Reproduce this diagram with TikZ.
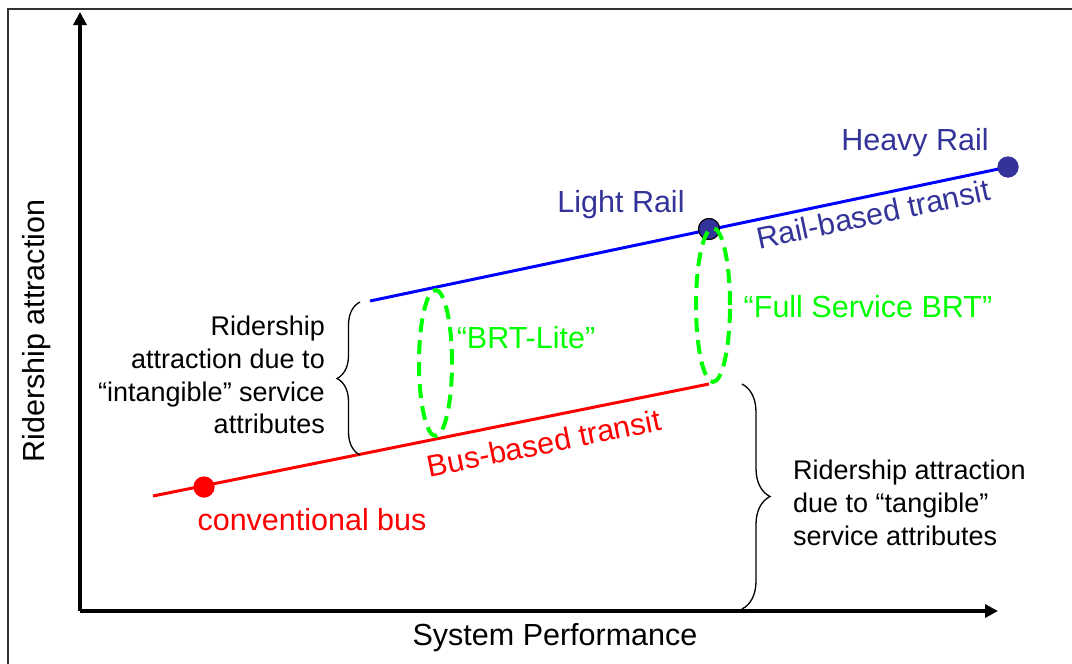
\documentclass[tikz,border=0pt]{standalone}
\usepackage{fontspec}
\setmainfont{Liberation Sans}
\usetikzlibrary{arrows.meta,decorations.pathreplacing}
\definecolor{navy}{RGB}{51,51,153}
\definecolor{brtgreen}{RGB}{0,255,0}
\begin{document}
\begin{tikzpicture}[x=1pt,y=-1pt,
  big/.style={font=\fontsize{30.5}{36}\selectfont, inner sep=0pt},
  small/.style={font=\fontsize{27}{32.8}\selectfont, inner sep=0pt},
  axisline/.style={line width=3.5pt,-{Triangle[length=13pt,width=13pt]}},
  railline/.style={blue,line width=3pt},
  busline/.style={red,line width=3pt},
  brtloop/.style={brtgreen,line width=4pt,dash pattern=on 14pt off 8pt},
  dotnode/.style={circle,inner sep=0pt,minimum size=21pt},
  bracepath/.style={decorate,line width=1.3pt},
]
\useasboundingbox (0,0) rectangle (1072,664);
% frame
\draw[line width=2pt,black!80] (8,680) -- (8,9) -- (1090,9);

% axes
\coordinate (origin) at (80,611);
\coordinate (ytip) at (80,12);
\coordinate (xtip) at (998,611);
\draw[axisline] (origin) -- (ytip);
\draw[axisline] (origin) -- (xtip);
\node[big,rotate=90] (ylab) at (37,331) {Ridership attraction};
\node[big] (xlab) at (555,638) {System Performance};

% rail line
\coordinate (railstart) at (370,301);
\node[dotnode,fill=navy] (hr) at (1008,167) {};
\node[dotnode,fill=navy,draw=black,line width=1pt] (lr) at (709,229) {};
\draw[railline] (railstart) -- (hr.center);
\node[dotnode,fill=navy] at (hr) {};
\node[dotnode,fill=navy,draw=black,line width=1pt] at (lr) {};

% bus line
\coordinate (busstart) at (153,496);
\coordinate (busend) at (709,384);
\node[dotnode,fill=red] (cb) at (204,487) {};
\draw[busline] (busstart) -- (busend);
\node[dotnode,fill=red] at (cb) {};

% BRT loops
\draw[brtloop] (435.5,363) ellipse [x radius=16.5pt, y radius=73pt];
\draw[brtloop] (713,305) ellipse [x radius=17pt, y radius=77pt];

% labels
\node[big,text=navy] (hrlab) at (915,143) {Heavy Rail};
\node[big,text=navy] (lrlab) at (621,205) {Light Rail};
\node[big,text=navy,rotate=11.9] (raillab) at (873,214) {Rail-based transit};
\node[big,text=red,rotate=11.4] (buslab) at (544,443) {Bus-based transit};
\node[big,text=red] (cblab) at (312,520) {conventional bus};
\node[big,text=brtgreen] (fullbrt) at (868,307) {“Full Service BRT”};
\node[big,text=brtgreen] (brtlite) at (526,338) {“BRT-Lite”};

% braces
\coordinate (lb1) at (360,455);
\coordinate (lb2) at (360,302);
\draw[bracepath,decoration={brace,amplitude=23pt}] (lb1) -- (lb2);
\coordinate (rb1) at (742,384);
\coordinate (rb2) at (742,609);
\draw[bracepath,decoration={brace,amplitude=28pt}] (rb1) -- (rb2);

\node[small,align=right,anchor=east] (intang) at (325,375)
  {Ridership\\attraction due to\\“intangible” service\\attributes};
\node[small,align=left,anchor=west] (tang) at (793,503)
  {Ridership attraction\\due to “tangible”\\service attributes};
\end{tikzpicture}
\end{document}
